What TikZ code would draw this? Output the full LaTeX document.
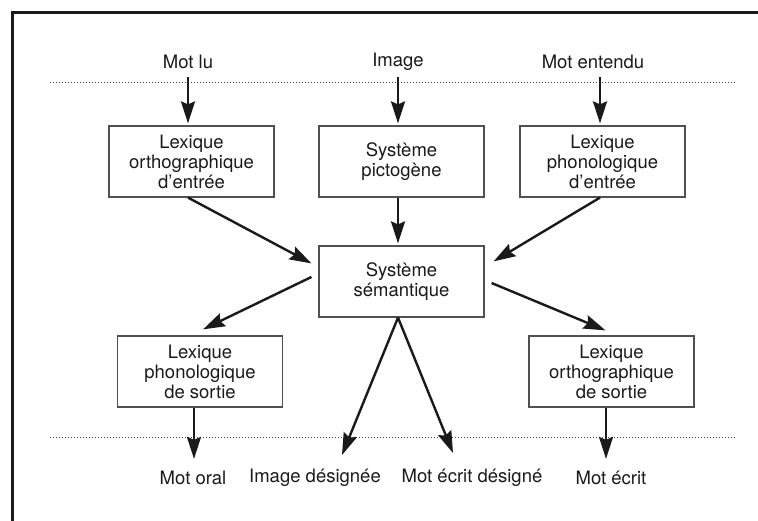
\documentclass[tikz,border=0pt]{standalone}
\usepackage{fontspec}
\setmainfont{TeX Gyre Heros}
\usetikzlibrary{arrows.meta,calc}
\definecolor{ink}{HTML}{1A1A1A}
\definecolor{boxline}{HTML}{505050}
\tikzset{
  lbl/.style={font=\fontsize{18.5}{20}\selectfont, text=ink, inner sep=0pt},
  stage/.style={draw=boxline, line width=1.2pt, minimum width=165pt, minimum height=71pt,
    align=center, font=\fontsize{18.5}{20}\selectfont, text=ink, inner sep=0pt},
  arr/.style={draw=ink, line width=2.4pt, -{Stealth[length=22pt,width=14pt,inset=3pt]}},
  dotline/.style={draw=ink!80, line width=1pt, dash pattern=on 1pt off 2pt},
  frameline/.style={draw=ink, line width=3pt}
}
\begin{document}
\begin{tikzpicture}[x=1pt,y=-1pt]
\useasboundingbox (0,0) rectangle (758,521);
% frame (cut at right and bottom)
\coordinate (fr1) at (12.5,800);
\coordinate (fr2) at (12.5,12.5);
\coordinate (fr3) at (800,12.5);
\draw[frameline] (fr1) -- (fr2) -- (fr3);
% dotted lines
\coordinate (dt1) at (50,83);
\coordinate (dt2) at (736,83);
\coordinate (db1) at (50,437);
\coordinate (db2) at (736,437);
\draw[dotline] (dt1) -- (dt2);
\draw[dotline] (db1) -- (db2);
% top labels
\node[lbl] (motlu) at (188,62) {Mot lu};
\node[lbl] (image) at (398,62) {Image};
\node[lbl] (motent) at (593,62) {Mot entendu};
% boxes
\node[stage] (lex1) at (191.5,161.5) {Lexique\\orthographique\\d’entrée};
\node[stage] (picto) at (401.5,161.5) {Système\\pictogène};
\node[stage] (lex3) at (602.5,161.5) {Lexique\\phonologique\\d’entrée};
\node[stage] (sem) at (401.5,281.5) {Système\\sémantique};
\node[stage] (lex4) at (200,371.5) {Lexique\\phonologique\\de sortie};
\node[stage] (lex5) at (611.5,371.5) {Lexique\\orthographique\\de sortie};
% bottom labels
\node[lbl] (motoral) at (193,478) {Mot oral};
\node[lbl] (imgd) at (315,478) {Image désignée};
\node[lbl] (motecd) at (472,478) {Mot écrit désigné};
\node[lbl] (motecrit) at (611,478) {Mot écrit};
% arrows
\draw[arr] (motlu.south |- dt1) ++(0,-6) -- ($(lex1.north)+(-3.5,-2)$);
\draw[arr] (image.south |- dt1) ++(0,-6) -- ($(picto.north)+(-3.5,-2)$);
\draw[arr] ($(motent.south |- dt1)+(7,-6)$) -- ($(lex3.north)+(-2.5,-2)$);
\draw[arr] ($(lex1.south)+(-3.5,0)$) -- ($(sem.north west)+(-7,18)$);
\draw[arr] ($(picto.south)+(-3.5,0)$) -- ($(sem.north)+(-3.5,-2)$);
\draw[arr] ($(lex3.south)+(-2.5,0)$) -- ($(sem.north east)+(9,16)$);
\draw[arr] ($(sem.west)+(-7,-4.5)$) -- ($(lex4.north)+(3,-6)$);
\draw[arr] ($(sem.east)+(7,1.5)$) -- ($(lex5.north)+(-6,-5)$);
\draw[arr] ($(sem.south)+(-3.5,0)$) -- ($(imgd.north)+(27,-14)$);
\draw[arr] ($(sem.south)+(-3.5,0)$) -- ($(motecd.north)+(-19,-16)$);
\draw[arr] ($(lex4.south)+(-6,0)$) -- ($(motoral.north)+(1,-12)$);
\draw[arr] ($(lex5.south)+(-5.5,0)$) -- ($(motecrit.north)+(-5,-12)$);
\end{tikzpicture}
\end{document}
